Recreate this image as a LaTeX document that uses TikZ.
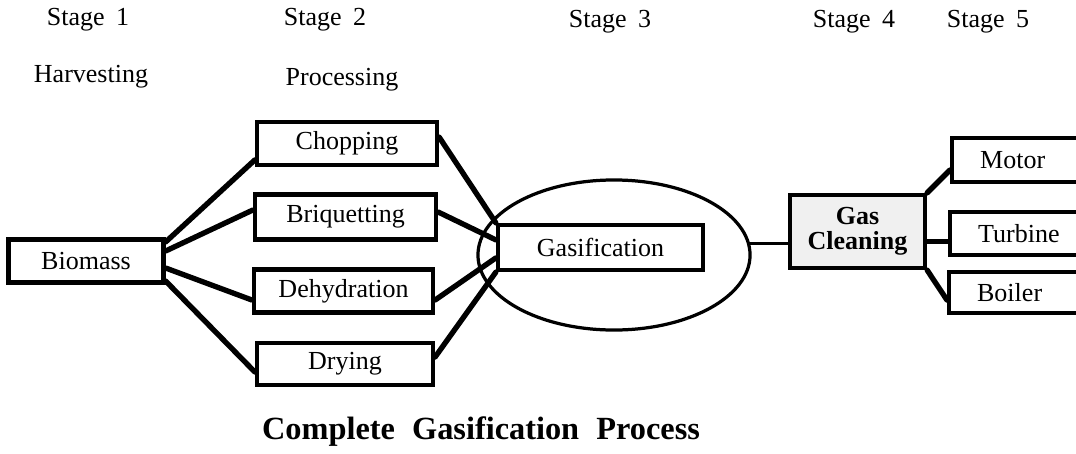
\documentclass[tikz,border=0pt]{standalone}
\usepackage{fontspec}
\setmainfont{Liberation Serif}
\usepackage{tikz}
\usetikzlibrary{shapes.geometric}
\tikzstyle{block} = [draw, rectangle,
	line width=3pt,
	inner sep=0pt,
	text centered,
	font=\fontsize{18.5}{20}\selectfont
	]
\tikzstyle{ende} = [block,
	anchor=west,
	align=left,
	text width=2.3cm,
	inner xsep=0.7cm
	]
\tikzstyle{linie} = [draw,
	line width=3.8pt, line cap=round
	]
\tikzstyle{stage} = [font=\fontsize{18.5}{20}\selectfont]

\begin{document}
\begin{tikzpicture}[x=0.025cm, y=-0.025cm]
    \useasboundingbox (0,0) rectangle (1076,453);

    % headings
    \node [stage] (stage1) at (88,20)  {Stage\;\,1};
    \node [stage] (stage2) at (325,20) {Stage\;\,2};
    \node [stage] (stage3) at (610,22) {Stage\;\,3};
    \node [stage] (stage4) at (854,22) {Stage\;\,4};
    \node [stage] (stage5) at (988,22) {Stage\;\,5};
    \node [stage] (harvest) at (91,77)  {Harvesting};
    \node [stage] (process) at (342,80) {Processing};

    % stage 1 and 2
    \node [block, minimum width=3.875cm, minimum height=1.075cm] (biomass) at (86,261) {Biomass};
    \node [block, minimum width=4.5cm,   minimum height=1.075cm] (chopping) at (347,143.5) {Chopping};
    \node [block, minimum width=4.525cm, minimum height=1.125cm] (briquetting) at (345.5,217) {Briquetting};
    \node [block, minimum width=4.475cm, minimum height=1.075cm] (dehydration) at (343.5,291) {Dehydration};
    \node [block, minimum width=4.4cm,   minimum height=1.05cm]  (drying) at (345,364) {Drying};

    % stage 3
    \node [draw, ellipse, line width=2.3pt, inner sep=0pt,
    	minimum width=6.8cm, minimum height=3.75cm] (reactor) at (614,255) {};
    \node [block, minimum width=5.125cm, minimum height=1.125cm] (gasification) at (600.5,247.5) {Gasification};

    % stage 4 and 5
    \node [block, fill=gray!12, align=center, font=\fontsize{18.5}{18}\selectfont\bfseries,
    	minimum width=3.375cm, minimum height=1.825cm] (cleaning) at (857.5,231.5) {Gas\\Cleaning};
    \node [ende, minimum height=1.1cm]   (motor)   at (950,160)   {Motor};
    \node [ende, minimum height=1.075cm] (turbine) at (948,233.5) {Turbine};
    \node [ende, minimum height=1.025cm] (boiler)  at (947,292.5) {Boiler};

    % connections
    \draw [linie] ([yshift=0.475cm]biomass.east) -- ([yshift=-0.41cm]chopping.west);
    \draw [linie] ([yshift=0.25cm]biomass.east) -- ([yshift=0.175cm]briquetting.west);
    \draw [linie] ([yshift=-0.175cm]biomass.east) -- ([yshift=-0.225cm]dehydration.west);
    \draw [linie] ([yshift=-0.5cm]biomass.east) -- ([yshift=-0.2cm]drying.west);

    \draw [linie] ([yshift=0.16cm]chopping.east) -- (gasification.north west);
    \draw [linie] ([yshift=0.125cm]briquetting.east) -- ([yshift=0.19cm]gasification.west);
    \draw [linie] ([yshift=-0.225cm]dehydration.east) -- ([yshift=-0.26cm]gasification.west);
    \draw [linie] ([yshift=0.175cm]drying.east) -- (gasification.south west);

    \draw [line width=2.2pt] (reactor.5) -- (reactor.5 -| cleaning.west);

    \draw [linie] (cleaning.north east) -- ([yshift=-0.25cm]motor.west);
    \draw [linie] ([yshift=-0.2cm]turbine.west -| cleaning.east) -- ([yshift=-0.2cm]turbine.west);
    \draw [linie] (cleaning.south east) -- ([yshift=-0.19cm]boiler.west);

    % title
    \node [font=\fontsize{23}{26}\selectfont\bfseries] (title) at (481,432) {Complete\; Gasification\; Process};
\end{tikzpicture}
\end{document}
